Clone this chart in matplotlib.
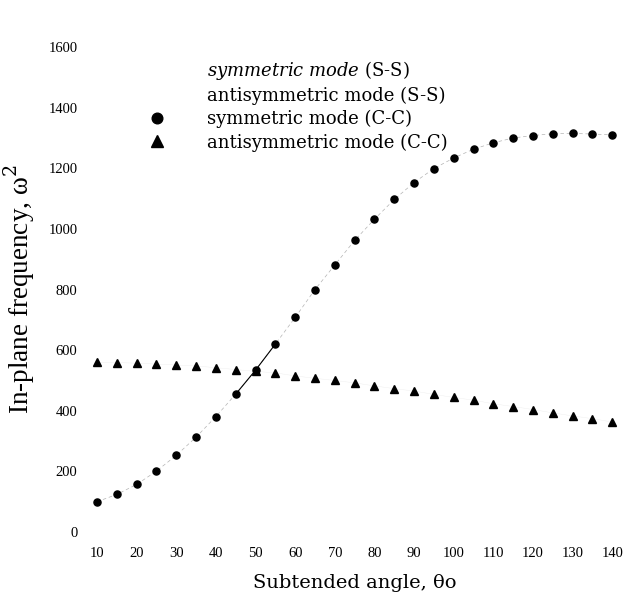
import matplotlib
matplotlib.use("Agg")
import matplotlib.pyplot as plt

plt.rcParams['mathtext.fontset'] = 'custom'
plt.rcParams['mathtext.it'] = 'DejaVu Serif:italic'
plt.rcParams['mathtext.rm'] = 'DejaVu Serif'

angle = [10, 15, 20, 25, 30, 35, 40, 45, 50, 55, 60, 65, 70, 75,
         80, 85, 90, 95, 100, 105, 110, 115, 120, 125, 130, 135, 140]
sym_cc = [100, 124, 157, 201, 253, 313, 381, 455, 534, 620, 708, 800, 881, 962,
          1032, 1097, 1153, 1199, 1234, 1263, 1284, 1300, 1308, 1314, 1315, 1313, 1310]
anti_cc = [560, 559, 557, 554, 551, 548, 542, 536, 530, 525, 515, 507, 500, 492,
           482, 473, 465, 454, 444, 435, 423, 414, 404, 393, 383, 374, 363]
# S-S curves lie on top of the C-C points
sym_ss = sym_cc
anti_ss = anti_cc

xticks = list(range(10, 141, 10))
yticks = list(range(0, 1601, 200))
labels = [r'$\it{symmetric\ mode}$ (S-S)', 'antisymmetric mode (S-S)',
          'symmetric mode (C-C)', 'antisymmetric mode (C-C)']


def main():
    fig = plt.figure(figsize=(6.26, 6.06), dpi=100)
    ax = fig.add_axes([0.155, 0.1221, 0.823, 0.8003])

    l1, = ax.plot(angle, sym_ss, color='0.7', lw=0.5, ls=(0, (5, 4)))
    l2, = ax.plot(angle, anti_ss, color='0.93', lw=0.3)
    l3, = ax.plot(angle, sym_cc, 'o', color='black', ms=5.1, clip_on=False)
    l4, = ax.plot(angle, anti_cc, '^', color='black', ms=5.8, clip_on=False)
    # solid stretch of the S-S line near the crossing
    ax.plot(angle[7:10], sym_ss[7:10], color='black', lw=0.8)

    ax.set_xlim(10, 140)
    ax.set_ylim(0, 1600)
    ax.set_xticks(xticks)
    ax.set_yticks(yticks)
    for s in ax.spines.values():
        s.set_visible(False)
    ax.tick_params(length=0, labelsize=10.5)
    ax.tick_params(axis='y', pad=14)
    ax.tick_params(axis='x', pad=11)
    for t in ax.get_xticklabels() + ax.get_yticklabels():
        t.set_fontfamily('Liberation Serif')

    ax.set_ylabel('In-plane frequency, ω$^2$', fontsize=19.5,
                  fontfamily='Liberation Serif', labelpad=8)
    ax.set_xlabel('Subtended angle, θo', fontsize=14,
                  fontfamily='DejaVu Serif', labelpad=10)

    leg = fig.legend([l1, l2, l3, l4], labels,
                     loc='upper left', bbox_to_anchor=(0.208, 0.918),
                     frameon=False, borderpad=0, handlelength=2.0,
                     handletextpad=1.75, labelspacing=0.28, markerscale=1.5,
                     prop={'family': 'DejaVu Serif', 'size': 13})
    leg.legend_handles[0].set_visible(False)
    leg.legend_handles[1].set_visible(False)

    fig.savefig('out.png', dpi=100, facecolor='white')


if __name__ == "__main__":
    main()
